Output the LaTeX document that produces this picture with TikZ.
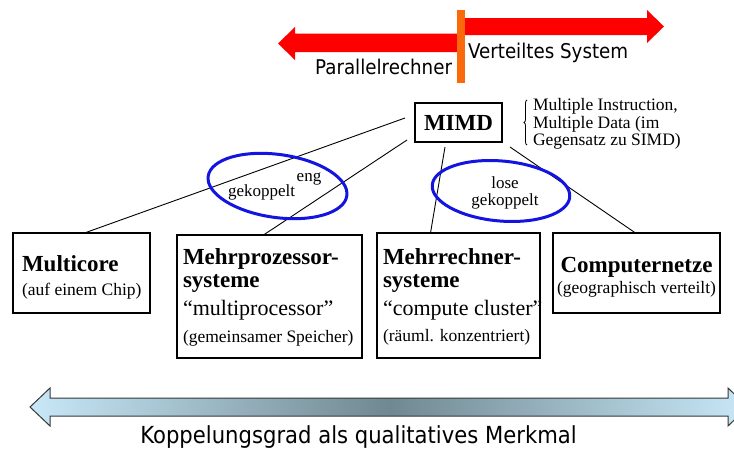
\documentclass[tikz,border=0pt]{standalone}
\usepackage{fontspec}
\setmainfont{Liberation Serif}
\newfontfamily\tahoma[FakeStretch=0.9]{DejaVu Sans}
\usetikzlibrary{shapes.geometric,decorations.pathreplacing}
\definecolor{arrowred}{RGB}{255,0,0}
\definecolor{divorange}{RGB}{250,105,10}
\definecolor{ringblue}{RGB}{20,20,225}
\definecolor{barlight}{RGB}{200,232,248}
\definecolor{bardark}{RGB}{112,136,145}
\definecolor{baredge}{RGB}{55,55,55}
\begin{document}
\begin{tikzpicture}[x=1pt,y=-1pt,
  every node/.style={inner sep=0pt, outer sep=0pt},
  box/.style={draw, line width=2pt, rectangle},
  ring/.style={draw=ringblue, line width=3pt, ellipse},
  link/.style={line width=0.9pt},
  sanslbl/.style={font=\tahoma\fontsize{20.3}{23}\selectfont},
  title/.style={anchor=base west, font=\fontsize{23}{26}\selectfont\bfseries},
  quote/.style={anchor=base west, font=\fontsize{22}{25}\selectfont},
  note/.style={anchor=base west, font=\fontsize{17.5}{20}\selectfont},
  small/.style={font=\fontsize{17}{19}\selectfont}
]
\useasboundingbox (0,0) rectangle (734,450);

% direction arrows at the top
\fill[arrowred] (278,43.5) -- (295,27) -- (295,33.5) -- (458,33.5) -- (458,52) -- (295,52) -- (295,60) -- cycle;
\fill[arrowred] (664,26.5) -- (647,10) -- (647,18) -- (465,18) -- (465,35) -- (647,35) -- (647,43) -- cycle;
\node[fill=divorange, minimum width=8, minimum height=73] (divider) at (461,46.5) {};
\node[sanslbl, anchor=base east] (par) at (452,74) {Parallelrechner};
\node[sanslbl, anchor=base west] (vert) at (468,58) {Verteiltes System};

% root node
\node[box, minimum width=87, minimum height=39, font=\fontsize{23}{26}\selectfont\bfseries] (mimd) at (458.5,122.5) {MIMD};

% explanation with brace
\draw[line width=0.8pt, decorate, decoration={brace, amplitude=3pt}] (527,145) -- (527,100);
\node[note] (ex1) at (533,110.7) {Multiple Instruction,};
\node[note] (ex2) at (533,128.3) {Multiple Data (im};
\node[note] (ex3) at (533,145.5) {Gegensatz zu SIMD)};

% category boxes
\node[box, minimum width=137, minimum height=80] (multi) at (81.5,273) {};
\node[box, minimum width=185, minimum height=123] (mproz) at (269.5,296.5) {};
\node[box, minimum width=163, minimum height=125] (mrech) at (458.5,295.5) {};
\node[box, minimum width=167, minimum height=80] (cnet) at (636.5,273) {};

\node[title] (multiA) at (22,271.5) {Multicore};
\node[note] (multiB) at (22,295) {(auf einem Chip)};

\node[title] (mprozA) at (183,264) {Mehrprozessor-};
\node[title] (mprozB) at (183,287.5) {systeme};
\node[quote] (mprozC) at (183,315) {“multiprocessor”};
\node[note] (mprozD) at (183,342) {(gemeinsamer Speicher)};

\node[title] (mrechA) at (383,264) {Mehrrechner-};
\node[title] (mrechB) at (383,287.5) {systeme};
\node[quote] (mrechC) at (383,315) {“compute cluster”};
\node[note] (mrechD) at (383,341) {(räuml. konzentriert)};

\node[title, anchor=base] (cnetA) at (636.5,272) {Computernetze};
\node[note, anchor=base] (cnetB) at (636.5,293) {(geographisch verteilt)};

% connectors from the root
\draw[link] ([xshift=-10pt,yshift=4.5pt]mimd.west) -- ([xshift=3pt]multi.north);
\draw[link] ([xshift=-8pt,yshift=2pt]mimd.south west) -- ([xshift=-6pt]mproz.north);
\draw[link] ([xshift=-13.5pt,yshift=-5pt]mimd.south) -- ([xshift=-28pt]mrech.north);
\draw[link] ([xshift=8pt,yshift=-5pt]mimd.south east) -- ([xshift=-1pt]cnet.north);

% coupling rings
\node[ring, minimum width=140, minimum height=63, rotate=-8] (tight) at (277.5,186) {};
\node[ring, minimum width=138, minimum height=60, rotate=-5] (loose) at (501,191) {};
\node[small, anchor=base] (tightA) at (309,181.5) {eng};
\node[small, anchor=base west] (tightB) at (228,196.5) {gekoppelt};
\node[small, anchor=base] (looseA) at (505,188.5) {lose};
\node[small, anchor=base] (looseB) at (505,205) {gekoppelt};

% coupling scale at the bottom
\path[draw=baredge, line width=1pt, left color=barlight, right color=barlight, middle color=bardark]
  (30,407) -- (50,388) -- (50,398) -- (728,398) -- (728,388) -- (748,407)
  -- (728,426) -- (728,416) -- (50,416) -- (50,426) -- cycle;
\node[font=\tahoma\fontsize{23.5}{26}\selectfont, anchor=base] (scale) at (358.5,443) {Koppelungsgrad als qualitatives Merkmal};
\end{tikzpicture}
\end{document}
